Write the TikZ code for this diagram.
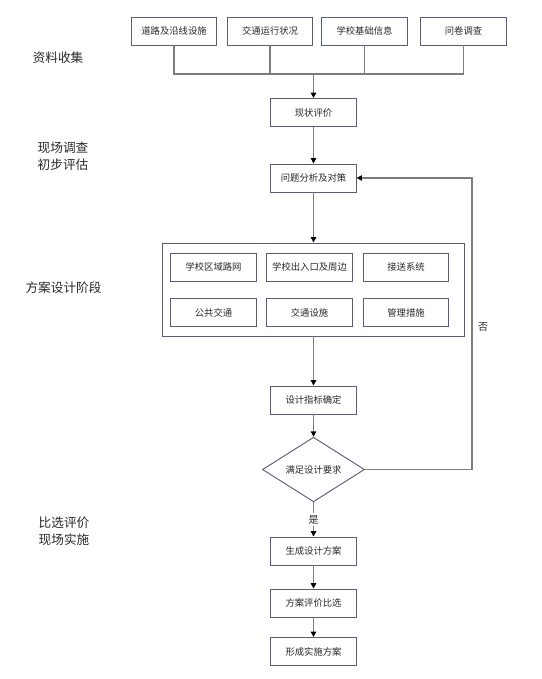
\documentclass[tikz,border=0pt]{standalone}
\usepackage{fontspec}
\newfontfamily\cjk{Noto Sans CJK SC}
\usepackage{tikz}
\usetikzlibrary{shapes.geometric}
\usetikzlibrary{arrows.meta}
\definecolor{boxline}{RGB}{88,92,124}
\definecolor{conline}{RGB}{125,125,125}
\definecolor{txt}{RGB}{40,40,40}

\begin{document}
\begin{tikzpicture}[x=0.75pt,y=0.75pt,yscale=-1,xscale=1,
  box/.style={draw=boxline,line width=0.7pt,fill=white,minimum width=64pt,minimum height=21pt,inner sep=1pt,text=txt,font=\cjk\fontsize{7}{8}\selectfont},
  frame/.style={draw=boxline,line width=0.7pt,minimum width=226.5pt,minimum height=69.75pt,inner sep=0pt},
  cond/.style={diamond,draw=boxline,line width=0.7pt,minimum width=76.5pt,minimum height=47.25pt,inner sep=0pt,text=txt,font=\cjk\fontsize{7}{8}\selectfont},
  stage/.style={text=txt,align=center,font=\cjk\fontsize{9.5}{13}\selectfont},
  lbl/.style={text=txt,fill=white,inner sep=1.5pt,font=\cjk\fontsize{7.5}{8}\selectfont},
  con/.style={draw=conline,line width=1pt},
  arr/.style={con,-{Triangle[length=4pt,width=4pt,fill=black,color=black]}}]
\useasboundingbox (0,0) rectangle (542,679);

% Stage labels
\node[stage] (s1) at (58,58) {资料收集};
\node[stage] (s2) at (63,156) {现场调查\\初步评估};
\node[stage] (s3) at (63.5,288) {方案设计阶段};
\node[stage] (s4) at (64,531.5) {比选评价\\现场实施};

% Data sources
\node[box] (t1) at (174,31) {道路及沿线设施};
\node[box] (t2) at (270,31) {交通运行状况};
\node[box] (t3) at (364.5,31) {学校基础信息};
\node[box] (t4) at (463.5,31) {问卷调查};
\coordinate (j) at (313.5,74);

% Main column
\node[box] (xz) at (313.5,112.5) {现状评价};
\node[box] (wt) at (313.5,178) {问题分析及对策};
\node[frame] (fa) at (313,289.5) {};
\node[box] (f1) at (213.5,267) {学校区域路网};
\node[box] (f2) at (309.5,267) {学校出入口及周边};
\node[box] (f3) at (406,267) {接送系统};
\node[box] (f4) at (213.5,312.5) {公共交通};
\node[box] (f5) at (309.5,312.5) {交通设施};
\node[box] (f6) at (406,312.5) {管理措施};
\node[box] (zb) at (313.5,400) {设计指标确定};
\node[cond] (dm) at (313.5,469.5) {满足设计要求};
\node[box] (sc) at (313.5,551) {生成设计方案};
\node[box] (bx) at (313.5,603) {方案评价比选};
\node[box] (ss) at (313.5,651.5) {形成实施方案};
\coordinate (fb) at (472,178);

% Connectors
\draw[con] (t1.south) |- (t4.south |- j) -- (t4.south);
\draw[con] (t2.south) -- (t2.south |- j);
\draw[con] (t3.south) -- (t3.south |- j);
\draw[arr] (j) -- (xz.north);
\draw[arr] (xz) -- (wt);
\draw[arr] (wt) -- (fa.north -| wt.south);
\draw[arr] (fa.south -| zb.north) -- (zb);
\draw[arr] (zb) -- (dm);
\draw[arr] (dm.east) -| (fb) -- (wt.east);
\draw[arr] (dm) -- node[lbl] (yes) {是} (sc);
\draw[arr] (sc) -- (bx);
\draw[arr] (bx) -- (ss);
\node[text=txt,font=\cjk\fontsize{7.5}{8}\selectfont] (no) at (483,327) {否};

\end{tikzpicture}
\end{document}
